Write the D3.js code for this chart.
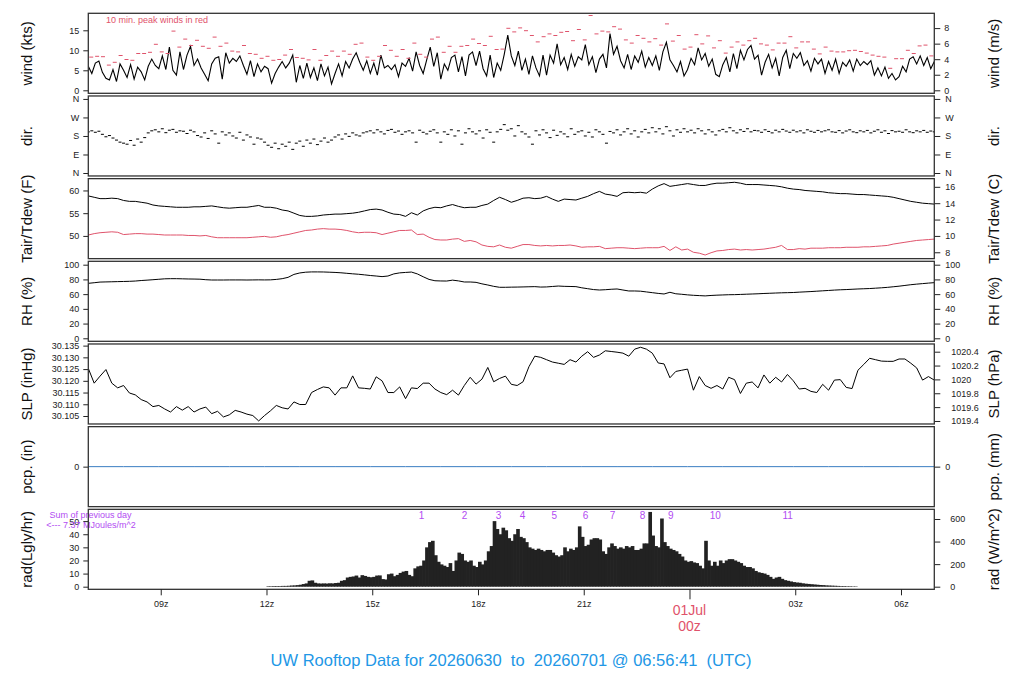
<!DOCTYPE html>
<html>
<head>
<meta charset="utf-8">
<script src="https://cdnjs.cloudflare.com/ajax/libs/d3/7.8.5/d3.min.js"></script>
<style>
body { margin: 0; background: #fff; }
text { font-family: "Liberation Sans", Arial, Helvetica, sans-serif; }
</style>
</head>
<body>
<div class="container"></div>
<script>
const WIDTH = 1024;
const HEIGHT = 700;
const LEFT = 88.3;
const RIGHT = 934.3;
const PANEL_TOP = 13.3;
const PANEL_H = 80;
const PANEL_STEP = 82.67;
const RED = "#DF536B";
const BLUE = "#2297E6";
const PCP_BLUE = "#3a7dc2";
const PURPLE = "#B24CF2";

// time window (UTC)
const startTime = Date.UTC(2026, 5, 30, 6, 56, 41);
const endTime = Date.UTC(2026, 6, 1, 6, 56, 41);
const radStart = Date.UTC(2026, 5, 30, 12, 0, 0);
const windStepMin = 6;
const peakStepMin = 10;
const obsStepMin = 10;
const radStepMin = 5;

// wind speed (kts), every 6 min
var windKts = [
 6.0,4.2,6.8,7.3,4.5,3.0,2.6,5.2,2.2,6.6, 5.0,3.2,6.4,2.8,5.8,4.6,2.6,6.0,7.8,6.2,
 5.4,8.6,5.2,10.8,5.0,3.8,9.6,5.2,8.8,11.0, 6.2,7.8,5.6,4.0,2.4,6.6,8.0,8.4,2.8,9.4,
 6.8,8.0,7.2,8.6,6.2,4.0,7.4,3.4,6.6,4.6, 6.0,5.4,1.8,4.2,5.8,7.2,5.6,6.8,8.8,2.0,
 6.2,3.0,6.8,3.2,5.6,2.4,6.6,3.6,5.8,1.6, 4.2,6.6,3.6,7.2,5.6,7.8,9.4,7.0,5.0,7.4,
 4.2,6.8,3.8,8.8,5.6,6.2,5.2,6.4,3.4,6.8, 6.0,8.0,4.8,9.6,6.2,4.2,7.6,10.8,6.0,9.4,
 2.8,6.6,5.0,8.2,8.8,4.6,8.4,3.6,8.8,9.6, 6.2,9.8,5.4,3.6,8.8,3.2,6.8,5.0,9.0,13.8,
 8.6,6.2,9.8,5.0,7.8,4.0,8.6,5.6,3.6,8.8, 3.8,8.8,6.8,11.6,6.4,8.2,5.2,9.0,6.0,8.4,
 7.6,11.4,6.4,8.4,4.4,7.8,9.0,5.6,14.2,9.0, 11.0,7.4,5.6,9.0,5.2,8.6,7.0,9.8,5.8,8.2,
 6.2,8.6,5.0,9.6,12.0,7.6,6.2,4.6,7.2,3.6, 5.2,8.0,6.4,10.6,7.6,9.2,6.0,7.8,4.0,3.4,
 6.4,8.2,4.6,9.2,5.4,10.0,7.6,10.2,11.2,7.8, 8.8,3.8,7.0,9.0,5.6,8.0,3.6,8.2,10.0,5.4,
 9.2,8.0,9.4,6.2,7.4,4.8,8.0,6.6,7.8,4.2, 7.2,5.0,7.8,4.2,7.0,6.0,7.6,4.8,7.8,6.2,
 7.2,6.4,7.4,3.8,5.6,3.6,5.8,3.0,4.2,2.6, 3.4,6.0,4.6,7.8,8.4,6.6,8.6,6.2,8.2,5.4,
 7.2
];

// 10 min peak wind (kts)
var windPeak = [
 8.3,8.5,8.4,6.3,7.0,8.7,7.7,7.5,9.2,9.2, 9.5,11.5,9.6,9.2,14.8,10.8,12.8,11.2,12.5,11.0,
 10.5,13.3,11.0,11.8,9.8,9.6,11.2,9.2,9.0,8.0, 8.5,7.5,7.7,8.8,10.2,8.2,8.0,7.6,10.2,7.5,
 8.7,9.8,8.5,9.8,9.0,11.5,11.8,8.3,7.5,8.5, 11.2,10.0,8.5,10.2,8.0,11.8,9.0,8.3,12.8,13.3,
 9.5,11.0,9.5,11.0,11.2,12.8,11.7,11.2,13.5,10.2, 10.3,15.5,14.6,15.6,14.9,13.7,12.1,13.4,14.1,13.7,
 14.5,14.7,12.4,15.2,12.6,18.7,14.1,14.8,14.6,15.9, 15.3,12.6,11.8,13.7,13.0,12.1,12.9,11.3,16.6,12.3,
 13.7,10.3,10.8,13.9,11.6,13.6,10.6,12.4,9.3,10.8, 12.1,11.3,12.4,13.0,11.6,11.3,10.1,11.8,11.8,13.4,
 10.6,12.1,12.1,10.3,9.1,10.8,9.8,9.6,9.6,9.9, 10.0,9.7,9.3,8.8,8.5,8.3,5.5,7.9,7.9,10.0,
 9.2,11.1,11.3,8.6
];

// wind direction (deg), every 6 min
var windDir = [
 200,205,198,203,188,176,182,170,160,150, 145,140,158,135,165,150,172,195,205,210,
 200,215,196,208,212,198,205,203,192,208, 200,182,175,195,168,205,190,145,200,185,
 195,180,170,198,160,185,175,140,170,165, 150,135,125,145,118,140,130,150,115,145,
 155,130,160,145,165,138,155,170,150,160, 175,185,165,190,178,195,185,180,195,200,
 205,195,210,200,190,207,212,198,204,188, 200,205,195,150,208,198,190,203,210,195,
 150,200,188,210,180,205,140,195,215,200, 190,205,170,210,198,150,200,212,235,208,
 215,180,230,200,190,175,140,205,185,210, 195,172,208,183,200,190,176,215,188,200,
 205,180,198,175,210,200,188,145,202,195, 210,185,200,215,190,205,175,200,212,195,
 220,200,215,190,225,205,180,210,198,215, 200,208,195,215,205,190,210,200,185,205,
 212,200,220,205,195,210,202,215,200,207, 205,198,210,202,195,208,200,212,204,198,
 208,200,205,195,210,203,198,207,200,205, 210,200,198,206,195,204,210,200,196,205,
 200,207,195,203,210,198,205,192,206,200, 203,198,210,200,196,205,200,207,198,204,
 200
];

// air temperature (F), every 10 min
var tairF = [
 58.8,58.5,58.2,58.2,58.3,58.2,57.8,57.6,57.6,57.4, 57.2,56.8,56.6,56.5,56.4,56.3,56.3,56.3,56.4,56.4,
 56.5,56.6,56.4,56.2,56.1,56.2,56.3,56.3,56.5,56.7, 56.3,56.3,56.1,55.7,55.5,55.0,54.5,54.3,54.3,54.4,
 54.6,54.7,54.8,54.8,54.9,55.0,55.2,55.5,55.8,55.9, 55.7,55.2,54.8,54.7,54.3,55.1,54.6,55.5,56.0,56.3,
 56.2,56.6,56.9,56.5,56.2,56.3,56.3,56.7,57.0,57.8, 58.5,58.0,57.4,57.8,58.3,58.4,58.2,58.3,58.7,58.1,
 57.6,58.1,58.0,57.9,58.3,58.7,59.3,59.8,59.2,59.0, 58.7,59.5,59.6,59.5,59.6,59.4,60.3,61.0,61.5,60.9,
 61.1,61.3,61.5,61.3,61.1,61.1,61.4,61.6,61.6,61.7, 61.8,61.6,61.3,61.3,61.3,61.2,61.1,61.0,60.8,60.5,
 60.3,60.2,60.0,59.9,59.8,59.7,59.5,59.4,59.3,59.3, 59.2,59.1,59.1,59.0,58.9,58.8,58.7,58.5,58.2,57.9,
 57.6,57.4,57.2,57.1,57.0
];

// dew point (F), every 10 min
var tdewF = [
 50.2,50.5,50.7,50.8,50.9,50.8,50.3,50.4,50.5,50.5, 50.4,50.4,50.3,50.2,50.2,50.2,50.2,50.1,50.1,50.0,
 50.1,49.8,49.6,49.6,49.6,49.6,49.6,49.6,49.7,49.8, 49.9,49.7,49.8,50.1,50.3,50.6,50.9,51.2,51.3,51.5,
 51.6,51.5,51.5,51.4,51.2,50.9,50.7,50.8,50.8,50.7, 50.3,50.6,50.9,51.2,51.2,51.3,50.3,50.4,49.7,49.2,
 49.1,49.1,49.3,49.4,48.8,49.0,48.7,48.0,47.7,47.6, 48.0,47.5,47.3,47.7,48.1,48.1,47.9,47.8,47.9,47.8,
 47.9,47.9,48.0,47.8,47.5,47.6,47.6,47.7,47.2,47.3, 47.4,47.4,47.3,47.2,47.3,47.4,47.4,47.4,47.7,46.8,
 47.6,46.9,47.1,46.4,46.2,45.8,46.3,46.7,46.8,47.0, 47.1,46.9,47.0,46.9,47.0,47.1,47.3,47.5,47.9,47.0,
 47.0,47.2,47.1,47.3,47.3,47.3,47.4,47.4,47.4,47.5, 47.5,47.5,47.6,47.6,47.7,47.8,47.9,48.2,48.4,48.6,
 48.8,49.0,49.1,49.2,49.3
];

// relative humidity (%), every 10 min
var rhPct = [
 74.7,75.5,76.4,76.6,76.8,77.0,77.2,77.4,77.8,78.5, 79.0,79.6,80.2,80.8,81.0,81.0,80.8,80.6,80.5,80.3,
 79.6,79.2,79.2,79.2,79.3,79.3,79.3,79.2,79.3,79.4, 79.3,79.4,80.0,81.0,82.8,86.8,88.8,89.8,90.2,90.2,
 90.1,89.8,89.5,89.0,88.3,87.6,87.0,86.2,85.3,84.6, 83.8,84.6,87.5,88.9,89.5,90.0,87.5,83.6,80.0,78.2,
 77.9,77.8,79.0,78.0,76.5,76.5,76.0,74.0,72.4,70.6, 69.3,69.3,69.5,69.6,69.8,70.0,70.2,69.6,69.8,70.4,
 71.0,70.6,70.4,70.2,68.6,67.4,66.2,65.6,66.0,66.6, 67.0,65.6,64.3,64.3,64.0,63.0,62.0,61.0,60.2,62.5,
 60.5,59.8,59.0,58.4,58.0,57.6,58.2,58.6,58.9,59.2, 59.3,59.6,59.9,60.2,60.5,60.9,61.2,61.5,61.8,62.0,
 62.2,62.7,63.1,63.5,64.0,64.5,65.0,65.5,65.9,66.2, 66.6,67.0,67.3,67.6,68.1,68.6,69.2,70.0,70.8,71.8,
 72.8,73.6,74.3,75.0,75.6
];

// sea level pressure (inHg), every 10 min
var slpInHg = [
 30.1253,30.1190,30.1220,30.1248,30.1190,30.1170,30.1180,30.1148,30.1140,30.1120,
 30.1110,30.1090,30.1095,30.1080,30.1067,30.1090,30.1075,30.1090,30.1067,30.1080,
 30.1088,30.1060,30.1070,30.1046,30.1055,30.1074,30.1067,30.1058,30.1052,30.1029,
 30.1052,30.1072,30.1095,30.1085,30.1080,30.1110,30.1099,30.1099,30.1150,30.1163,
 30.1174,30.1170,30.1139,30.1170,30.1170,30.1221,30.1170,30.1168,30.1165,30.1217,
 30.1200,30.1150,30.1150,30.1174,30.1124,30.1170,30.1167,30.1190,30.1190,30.1165,
 30.1150,30.1141,30.1160,30.1139,30.1180,30.1215,30.1186,30.1207,30.1257,30.1196,
 30.1210,30.1220,30.1185,30.1180,30.1196,30.1260,30.1305,30.1300,30.1290,30.1280,
 30.1275,30.1270,30.1290,30.1280,30.1305,30.1324,30.1300,30.1310,30.1328,30.1325,
 30.1322,30.1318,30.1305,30.1335,30.1343,30.1335,30.1318,30.1276,30.1272,30.1213,
 30.1240,30.1245,30.1250,30.1160,30.1218,30.1180,30.1168,30.1180,30.1165,30.1215,
 30.1205,30.1146,30.1190,30.1195,30.1170,30.1225,30.1190,30.1215,30.1195,30.1227,
 30.1200,30.1165,30.1168,30.1155,30.1150,30.1185,30.1160,30.1203,30.1205,30.1172,
 30.1167,30.1245,30.1270,30.1296,30.1290,30.1284,30.1283,30.1283,30.1293,30.1293,
 30.1275,30.1255,30.1203,30.1218,30.1203
];

// precipitation (in), hourly
var pcpIn = [0,0,0,0,0,0,0,0,0,0,0,0,0,0,0,0,0,0,0,0,0,0,0,0,0];

// solar radiation (Langley/hr), every 5 min from 12z
var radLgly = [
 0.4,0.4,0.5,0.5,0.5,0.6,0.6,0.7,0.9,1.0,1.2,
 1.5,2.0,2.5,4.5,4.8,3.0,2.5,2.4,2.5,2.4,
 2.6,2.5,2.8,3.0,4.5,5.0,7.0,7.5,7.8,8.5,
 7.0,8.8,8.2,7.5,7.2,7.5,8.5,8.6,5.8,5.5,
 9.5,10,8,9,10.5,11.5,12,9,8,14,
 15.5,16,20,30,34,35,24,19,17,16,
 15,18,12,20,26,25,20,19,20,16,
 15,19,17,20,27,31,50,44,40,45,
 43,37,35,40,44,38,37,34,30,29,
 28,29,28,27,28,28,26,24,23,24,
 30,27,29,28,30,46,38,31,32,36,
 37,37,36,27,25,30,33,31,29,30,
 29,31,30,31,28,28,29,33,33,57,
 39,31,30,52,34,31,29,28,27,25,
 23,20,19,19.5,18.5,18,16,14,35,20,
 16,19,16,20,18,20,21,21,20,19,
 18,16,15,15,14,12,11,10.5,10,9,
 7.5,6,7,7.5,6,5,4.5,4,3.5,3.2,
 3,2.6,2.3,2.1,1.9,1.7,1.5,1.3,1.2,1.0,
 0.9,0.8,0.7,0.6,0.5,0.5,0.4,0.4,0.3,0.3
];

// hour marks along the top of the radiation panel
var radMarkLabels = ["1","2","3","4","5","6","7","8","9","10","11"];
var radMarkTimes = [
 Date.UTC(2026,5,30,16,24), Date.UTC(2026,5,30,17,37), Date.UTC(2026,5,30,18,35),
 Date.UTC(2026,5,30,19,16), Date.UTC(2026,5,30,20,10), Date.UTC(2026,5,30,21,3),
 Date.UTC(2026,5,30,21,49), Date.UTC(2026,5,30,22,40), Date.UTC(2026,5,30,23,28),
 Date.UTC(2026,6,1,0,44), Date.UTC(2026,6,1,2,47)
];

// tick values
var windTicksKts = [0,5,10,15];
var windTicksMs = [0,2,4,6,8];
var dirTicks = [0,90,180,270,360];
var dirLabels = ["N","E","S","W","N"];
var tempTicksF = [50,55,60];
var tempTicksC = [8,10,12,14,16];
var rhTicks = [0,20,40,60,80,100];
var slpTicksInHg = [30.105,30.110,30.115,30.120,30.125,30.130,30.135];
var slpTicksHpa = [1019.4,1019.6,1019.8,1020,1020.2,1020.4];
var pcpTicksIn = [0];
var pcpTicksMm = [0];
var radTicksLgly = [0,10,20,30,40,50];
var radTicksWm2 = [0,200,400,600];

var msToKt = function(v){ return v * 1.94384; };
var cToF = function(v){ return v * 9 / 5 + 32; };
var hpaToInHg = function(v){ return v * 0.0295300; };
var wm2ToLgly = function(v){ return v / 11.622; };
var mmToIn = function(v){ return v / 25.4; };

var timeAt = function(base, stepMin, i){ return new Date(base + i * stepMin * 60000); };

var svg, x;

var panels = [
 { y: [-0.75, 19.25], lt: windTicksKts, ltFmt: String,
   rt: windTicksMs.map(msToKt), rtLab: windTicksMs.map(String),
   lTitle: "wind (kts)", rTitle: "wind (m/s)", rPad: 4 },
 { y: [-14.4, 374.4], lt: dirTicks, ltFmt: function(d, i){ return dirLabels[i]; },
   rt: dirTicks, rtLab: dirLabels,
   lTitle: "dir.", rTitle: "dir.", rPad: 5 },
 { y: [45.0, 62.6], lt: tempTicksF, ltFmt: String,
   rt: tempTicksC.map(cToF), rtLab: tempTicksC.map(String),
   lTitle: "Tair/Tdew (F)", rTitle: "Tair/Tdew (C)", rPad: 5 },
 { y: [-4.1, 104.6], lt: rhTicks, ltFmt: String,
   rt: rhTicks, rtLab: rhTicks.map(String),
   lTitle: "RH (%)", rTitle: "RH (%)", rPad: 5 },
 { y: [30.1016, 30.1357], lt: slpTicksInHg, ltFmt: d3.format(".3f"),
   rt: slpTicksHpa.map(hpaToInHg), rtLab: slpTicksHpa.map(String),
   lTitle: "SLP (inHg)", rTitle: "SLP (hPa)", rPad: 11 },
 { y: [-1, 1], lt: pcpTicksIn, ltFmt: String,
   rt: pcpTicksMm.map(mmToIn), rtLab: pcpTicksMm.map(String),
   lTitle: "pcp. (in)", rTitle: "pcp. (mm)", rPad: 5 },
 { y: [-2, 59], lt: radTicksLgly, ltFmt: String,
   rt: radTicksWm2.map(wm2ToLgly), rtLab: radTicksWm2.map(String),
   lTitle: "rad(Lgly/hr)", rTitle: "rad (W/m^2)", rPad: 10 }
];

var drawFrames = function(){
	panels.forEach(function(p, k){
		var top = PANEL_TOP + k * PANEL_STEP;
		p.top = top;
		p.scale = d3.scaleLinear().domain(p.y).range([top + PANEL_H, top]);

		svg.append("clipPath").attr("id", "clip" + k)
			.append("rect")
			.attr("x", LEFT).attr("y", top)
			.attr("width", RIGHT - LEFT).attr("height", PANEL_H);

		p.g = svg.append("g").attr("clip-path", "url(#clip" + k + ")");

		var la = svg.append("g")
			.attr("transform", "translate(" + LEFT + ",0)")
			.call(d3.axisLeft(p.scale).tickValues(p.lt).tickFormat(p.ltFmt)
				.tickSize(5).tickPadding(4));
		var ra = svg.append("g")
			.attr("transform", "translate(" + RIGHT + ",0)")
			.call(d3.axisRight(p.scale).tickValues(p.rt)
				.tickFormat(function(d, i){ return p.rtLab[i]; })
				.tickSize(6).tickPadding(p.rPad));
		[la, ra].forEach(function(a){
			a.select(".domain").remove();
			a.attr("font-size", 9).attr("font-family", null).style("color", "#222");
		});

		var mid = top + PANEL_H / 2;
		svg.append("text")
			.attr("transform", "translate(27," + mid + ") rotate(-90)")
			.attr("text-anchor", "middle").attr("dy", "0.35em")
			.attr("font-size", 15).attr("fill", "#111")
			.text(p.lTitle);
		svg.append("text")
			.attr("transform", "translate(994," + mid + ") rotate(-90)")
			.attr("text-anchor", "middle").attr("dy", "0.35em")
			.attr("font-size", 15).attr("fill", "#111")
			.text(p.rTitle);
	});
}

var drawBorders = function(){
	panels.forEach(function(p){
		svg.append("rect")
			.attr("x", LEFT).attr("y", p.top)
			.attr("width", RIGHT - LEFT).attr("height", PANEL_H)
			.attr("fill", "none").attr("stroke", "#333").attr("stroke-width", 1.3);
	});
}

var drawWind = function(){
	var p = panels[0];
	p.g.append("path")
		.datum(windKts)
		.attr("fill", "none").attr("stroke", "#000").attr("stroke-width", 1.1)
		.attr("d", d3.line()
			.x(function(d, i){ return x(timeAt(startTime, windStepMin, i)); })
			.y(function(d){ return p.scale(d); }));

	p.g.selectAll(".peak").data(windPeak).enter().append("line")
		.classed("peak", true)
		.attr("x1", function(d, i){ return x(timeAt(startTime, peakStepMin, i + 0.5)) - 2; })
		.attr("x2", function(d, i){ return x(timeAt(startTime, peakStepMin, i + 0.5)) + 2; })
		.attr("y1", function(d){ return p.scale(d); })
		.attr("y2", function(d){ return p.scale(d); })
		.attr("stroke", RED).attr("stroke-width", 1);

	svg.append("text")
		.attr("x", 106).attr("y", 22.5)
		.attr("font-size", 9).attr("fill", RED)
		.text("10 min. peak winds in red");
}

var drawDir = function(){
	var p = panels[1];
	p.g.selectAll(".dir").data(windDir).enter().append("line")
		.classed("dir", true)
		.attr("x1", function(d, i){ return x(timeAt(startTime, windStepMin, i)) - 1.5; })
		.attr("x2", function(d, i){ return x(timeAt(startTime, windStepMin, i)) + 1.5; })
		.attr("y1", function(d){ return p.scale(d); })
		.attr("y2", function(d){ return p.scale(d); })
		.attr("stroke", "#000").attr("stroke-width", 1);
}

var drawSeries = function(k, values, stepMin, color){
	var p = panels[k];
	p.g.append("path")
		.datum(values)
		.attr("fill", "none").attr("stroke", color).attr("stroke-width", 1)
		.attr("d", d3.line()
			.x(function(d, i){ return x(timeAt(startTime, stepMin, i)); })
			.y(function(d){ return p.scale(d); }));
}

var drawRad = function(){
	var p = panels[6];
	var w = x(timeAt(radStart, radStepMin, 1)) - x(timeAt(radStart, radStepMin, 0));
	p.g.selectAll(".rad").data(radLgly).enter().append("rect")
		.classed("rad", true)
		.attr("x", function(d, i){ return x(timeAt(radStart, radStepMin, i)); })
		.attr("y", function(d){ return p.scale(d); })
		.attr("width", w + 0.7)
		.attr("height", function(d){ return p.scale(0) - p.scale(d); })
		.attr("fill", "#222");

	svg.selectAll(".radmark").data(radMarkLabels).enter().append("text")
		.classed("radmark", true)
		.attr("x", function(d, i){ return x(new Date(radMarkTimes[i])); })
		.attr("y", 518.5)
		.attr("text-anchor", "middle")
		.attr("font-size", 10).attr("fill", PURPLE)
		.text(function(d){ return d; });

	svg.append("text").attr("x", 90.5).attr("y", 517.5)
		.attr("text-anchor", "middle").attr("font-size", 9).attr("fill", PURPLE)
		.text("Sum of previous day");
	svg.append("text").attr("x", 91).attr("y", 528)
		.attr("text-anchor", "middle").attr("font-size", 9).attr("fill", PURPLE)
		.text("<--- 7.37 MJoules/m^2");
}

var drawTimeAxis = function(){
	var bottom = panels[6].top + PANEL_H;
	var ticks = x.ticks(d3.utcHour.every(3));
	var ax = svg.append("g")
		.attr("transform", "translate(0," + bottom + ")")
		.call(d3.axisBottom(x).tickValues(ticks)
			.tickFormat(function(d){ return d.getUTCHours() === 0 ? "" : d3.utcFormat("%Hz")(d); })
			.tickSize(6).tickPadding(5));
	ax.select(".domain").remove();
	ax.attr("font-size", 9).attr("font-family", null).style("color", "#222");
	ax.selectAll(".tick").filter(function(d){ return d.getUTCHours() === 0; })
		.select("line").attr("y2", 10);

	var midnight = ticks.filter(function(d){ return d.getUTCHours() === 0; })[0];
	svg.append("text").attr("x", x(midnight)).attr("y", 615)
		.attr("text-anchor", "middle").attr("font-size", 14).attr("fill", RED)
		.text(d3.utcFormat("%d%b")(midnight));
	svg.append("text").attr("x", x(midnight)).attr("y", 631)
		.attr("text-anchor", "middle").attr("font-size", 14).attr("fill", RED)
		.text("00z");

	svg.append("text")
		.attr("x", 511).attr("y", 665.5)
		.attr("text-anchor", "middle")
		.attr("font-size", 16.5).attr("fill", BLUE)
		.style("white-space", "pre")
		.text("UW Rooftop Data for 20260630  to  20260701 @ 06:56:41  (UTC)");
}

var loadChart = function(){
	svg = d3.select(".container").append("svg")
		.attr("width", WIDTH)
		.attr("height", HEIGHT);
	svg.append("rect").attr("width", WIDTH).attr("height", HEIGHT).attr("fill", "#fff");

	x = d3.scaleUtc().domain([new Date(startTime), new Date(endTime)]).range([LEFT, RIGHT]);

	drawFrames();
	drawWind();
	drawDir();
	drawSeries(2, tairF, obsStepMin, "#000");
	drawSeries(2, tdewF, obsStepMin, RED);
	drawSeries(3, rhPct, obsStepMin, "#000");
	drawSeries(4, slpInHg, obsStepMin, "#000");
	drawSeries(5, pcpIn, 60, PCP_BLUE);
	drawRad();
	drawBorders();
	drawTimeAxis();
}
window.onload = loadChart;
</script>
</body>
</html>
